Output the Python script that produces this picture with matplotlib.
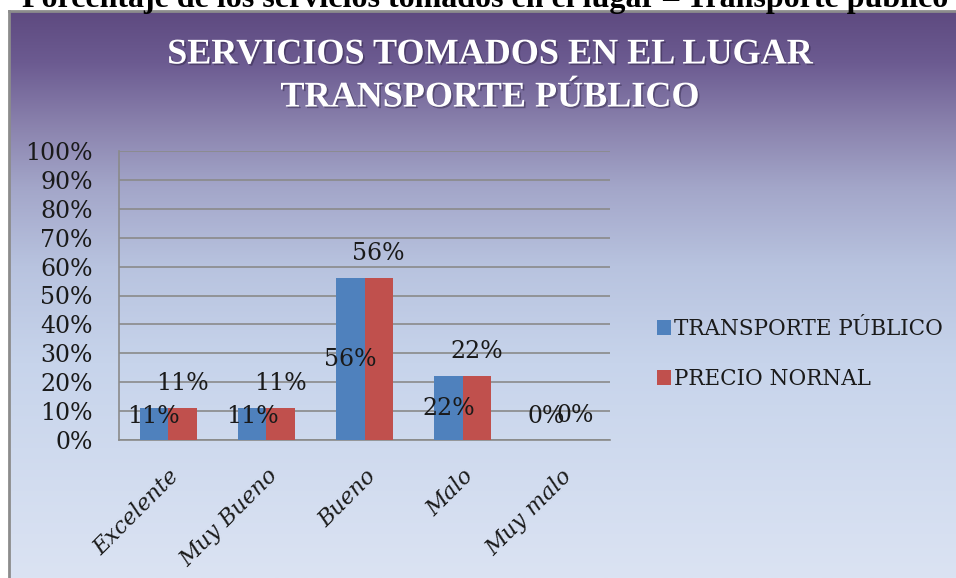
import numpy as np
import matplotlib
matplotlib.use("Agg")
import matplotlib.pyplot as plt
from matplotlib.colors import LinearSegmentedColormap
from matplotlib.patches import Patch
import matplotlib.patheffects as pe

# ---- data -------------------------------------------------------------
categories = ["Excelente", "Muy Bueno", "Bueno", "Malo", "Muy malo"]
transporte_publico = [11, 11, 56, 22, 0]   # percent
precio_normal = [11, 11, 56, 22, 0]        # percent
series_names = ["TRANSPORTE PÚBLICO", "PRECIO NORNAL"]
y_ticks = [0, 10, 20, 30, 40, 50, 60, 70, 80, 90, 100]

caption = "Porcentaje de los servicios tomados en el lugar – Transporte público"
title_lines = ["SERVICIOS TOMADOS EN EL LUGAR", "TRANSPORTE PÚBLICO"]

# ---- styling ----------------------------------------------------------
W, H, DPI = 956, 578, 100
BLUE = "#4f81bd"
RED = "#c0504d"
GRID = "#8a8a8a"
SERIF = ["DejaVu Serif"]

fig = plt.figure(figsize=(W / DPI, H / DPI), dpi=DPI)
fig.patch.set_facecolor("white")


def fx(px):
    return px / W


def fy(py):
    return 1 - py / H


# chart area with vertical gradient
frame_left, frame_top = 9, 11
bg = fig.add_axes([fx(frame_left), 0, 1 - fx(frame_left), fy(frame_top)])
grad_cmap = LinearSegmentedColormap.from_list(
    "bg",
    [(0.00, "#5e4a80"), (0.09, "#6c5b91"), (0.20, "#8a82ad"),
     (0.31, "#a3a6c9"), (0.45, "#b8c3df"), (0.62, "#c7d4eb"),
     (1.00, "#dbe3f3")])
bg.imshow(np.linspace(0, 1, 256).reshape(-1, 1), aspect="auto",
          cmap=grad_cmap, extent=[0, 1, 1, 0])
bg.set_xlim(0, 1)
bg.set_ylim(1, 0)
bg.set_xticks([])
bg.set_yticks([])
for side in ("right", "bottom"):
    bg.spines[side].set_visible(False)
for side in ("left", "top"):
    bg.spines[side].set_color("#8c8c8c")
    bg.spines[side].set_linewidth(2)

# caption above the chart (partly clipped by the figure edge)
fig.text(fx(22), fy(7), caption, fontsize=23, fontweight="bold",
         family=["Liberation Serif"], color="black", va="baseline", ha="left")

# chart title
shadow = [pe.withSimplePatchShadow(offset=(1.2, -1.2), shadow_rgbFace="#2a2040",
                                   alpha=0.45)]
fig.text(fx(490), fy(55), title_lines[0], fontsize=26, fontweight="bold",
         family=["Liberation Serif"], color="white", ha="center", va="center",
         path_effects=shadow)
fig.text(fx(490), fy(98), title_lines[1], fontsize=26, fontweight="bold",
         family=["Liberation Serif"], color="white", ha="center", va="center",
         path_effects=shadow)

# plot area
ax_l, ax_r, ax_t, ax_b = 119, 610, 151, 440
ax = fig.add_axes([fx(ax_l), fy(ax_b), fx(ax_r - ax_l), (ax_b - ax_t) / H])
ax.patch.set_alpha(0)

x = np.arange(len(categories))
bw = 0.29
tp = np.array(transporte_publico) / 100
pn = np.array(precio_normal) / 100
ax.bar(x - bw / 2, tp, bw, color=BLUE, zorder=3, label=series_names[0])
ax.bar(x + bw / 2, pn, bw, color=RED, zorder=3, label=series_names[1])

ax.set_xlim(-0.5, len(categories) - 0.5)
ax.set_ylim(0, 1)
ax.set_yticks(np.array(y_ticks) / 100)
ax.set_yticklabels([f"{t}%" for t in y_ticks], family=SERIF, fontsize=17,
                   color="#1a1a1a")
ax.yaxis.grid(True, color=GRID, linewidth=1.2, zorder=0)
ax.set_axisbelow(True)
ax.tick_params(axis="y", length=0, pad=19)
ax.tick_params(axis="x", length=0, pad=18)
ax.set_xticks(x)
ax.set_xticklabels(categories, family=SERIF, style="italic", fontsize=16,
                   rotation=45, ha="right", va="top", rotation_mode="anchor",
                   color="#1a1a1a")
for side in ("top", "right"):
    ax.spines[side].set_visible(False)
for side in ("left", "bottom"):
    ax.spines[side].set_color(GRID)
    ax.spines[side].set_linewidth(1.2)

# value labels: first series centred in the bar, second above the bar
for xi, v in zip(x, transporte_publico):
    ax.text(xi - bw / 2, max(v / 200, 0.08), f"{v}%", ha="center",
            va="center", family=SERIF, fontsize=17, color="#1a1a1a", zorder=5)
for xi, v in zip(x, precio_normal):
    ax.annotate(f"{v}%", (xi + bw / 2, v / 100), xytext=(0, 18),
                textcoords="offset points", ha="center", va="center",
                family=SERIF, fontsize=17, color="#1a1a1a", zorder=5)

# legend
handles = [Patch(facecolor=BLUE), Patch(facecolor=RED)]
leg = fig.legend(handles, series_names, loc="center left",
                 bbox_to_anchor=(fx(648), fy(354)), frameon=False,
                 prop={"family": SERIF[0], "size": 15.5},
                 handlelength=0.65, handleheight=0.65, handletextpad=0.15,
                 labelspacing=1.3, borderaxespad=0)
for t in leg.get_texts():
    t.set_color("#1a1a1a")

fig.savefig("out.png", dpi=DPI)
